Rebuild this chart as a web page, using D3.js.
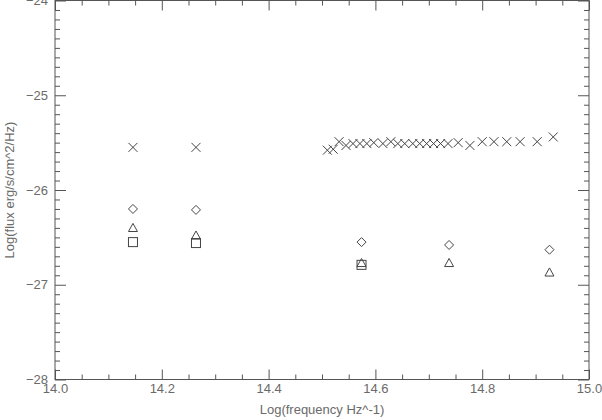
<!DOCTYPE html>
<html><head><meta charset="utf-8">
<script src="https://cdn.jsdelivr.net/npm/d3@7"></script>
<style>body{margin:0;background:#fff}svg{display:block}</style>
</head><body>
<script>
const xDomain = [14.0, 15.0];
const yDomain = [-28, -24];
const xMajorTicks = [14.0, 14.2, 14.4, 14.6, 14.8, 15.0];
const yMajorTicks = [-28, -27, -26, -25, -24];
const xLabel = "Log(frequency Hz^-1)";
const yLabel = "Log(flux erg/s/cm^2/Hz)";

const crossX = [14.146, 14.264, 14.510, 14.521, 14.532, 14.545, 14.558, 14.571, 14.584, 14.597, 14.614, 14.629, 14.642, 14.655, 14.670, 14.683, 14.696, 14.709, 14.722, 14.736, 14.755, 14.777, 14.800, 14.822, 14.846, 14.871, 14.903, 14.933];
const crossY = [-25.55, -25.55, -25.58, -25.57, -25.49, -25.53, -25.51, -25.51, -25.51, -25.50, -25.51, -25.49, -25.51, -25.51, -25.51, -25.51, -25.51, -25.51, -25.51, -25.51, -25.50, -25.53, -25.49, -25.49, -25.49, -25.49, -25.49, -25.44];
const diamondX = [14.146, 14.264, 14.574, 14.738, 14.926];
const diamondY = [-26.20, -26.21, -26.55, -26.58, -26.63];
const triangleX = [14.146, 14.264, 14.574, 14.738, 14.926];
const triangleY = [-26.40, -26.48, -26.77, -26.77, -26.87];
const squareX = [14.146, 14.264, 14.574];
const squareY = [-26.55, -26.56, -26.79];

const W = 602, H = 420;
const mLeft = 55, mRight = 589, mTop = 0.5, mBottom = 379.5;
const svg = d3.select("body").append("svg").attr("width", W).attr("height", H);
const x = d3.scaleLinear().domain(xDomain).range([mLeft, mRight]);
const y = d3.scaleLinear().domain(yDomain).range([mBottom, mTop]);

const axisColor = "#555", textColor = "#6a6a6a";
const font = "Liberation Sans, Arial, sans-serif";

const xMinor = d3.range(0, 21).map(i => 14 + i * 0.05).filter(v => !xMajorTicks.some(m => Math.abs(m - v) < 1e-6));
const yMinor = d3.range(0, 41).map(i => -28 + i * 0.1).filter(v => !yMajorTicks.some(m => Math.abs(m - v) < 1e-6));

function styleAxis(g) {
  g.select(".domain").remove();
  g.selectAll("line").attr("stroke", axisColor).attr("stroke-width", 1);
  g.selectAll("text").attr("fill", textColor).style("font-family", font).style("font-size", "13px");
}
// bottom
svg.append("g").attr("transform", `translate(0,${mBottom})`)
  .call(d3.axisBottom(x).tickValues(xMajorTicks).tickSize(-10).tickPadding(4).tickFormat(d3.format(".1f"))).call(styleAxis);
svg.append("g").attr("transform", `translate(0,${mBottom})`)
  .call(d3.axisBottom(x).tickValues(xMinor).tickSize(-5).tickFormat("")).call(styleAxis);
// top
svg.append("g").attr("transform", `translate(0,${mTop})`)
  .call(d3.axisTop(x).tickValues(xMajorTicks).tickSize(-10).tickFormat("")).call(styleAxis);
svg.append("g").attr("transform", `translate(0,${mTop})`)
  .call(d3.axisTop(x).tickValues(xMinor).tickSize(-5).tickFormat("")).call(styleAxis);
// left
svg.append("g").attr("transform", `translate(${mLeft},0)`)
  .call(d3.axisLeft(y).tickValues(yMajorTicks).tickSize(-11).tickPadding(7).tickFormat(d3.format("d"))).call(styleAxis);
svg.append("g").attr("transform", `translate(${mLeft},0)`)
  .call(d3.axisLeft(y).tickValues(yMinor).tickSize(-5).tickFormat("")).call(styleAxis);
// right
svg.append("g").attr("transform", `translate(${mRight},0)`)
  .call(d3.axisRight(y).tickValues(yMajorTicks).tickSize(-11).tickFormat("")).call(styleAxis);
svg.append("g").attr("transform", `translate(${mRight},0)`)
  .call(d3.axisRight(y).tickValues(yMinor).tickSize(-5).tickFormat("")).call(styleAxis);

// frame
svg.append("rect").attr("x", mLeft).attr("y", mTop).attr("width", mRight - mLeft).attr("height", mBottom - mTop)
  .attr("fill", "none").attr("stroke", axisColor).attr("stroke-width", 1);

// labels
svg.append("text").attr("x", (mLeft + mRight) / 2).attr("y", 414).attr("text-anchor", "middle")
  .attr("fill", textColor).style("font-family", font).style("font-size", "13px").text(xLabel);
svg.append("text").attr("transform", `translate(14,${(mTop + mBottom) / 2}) rotate(-90)`).attr("text-anchor", "middle")
  .attr("fill", textColor).style("font-family", font).style("font-size", "13px").text(yLabel);

const mk = "#444";
const pts = (xs, ys) => xs.map((v, i) => ({ x: v, y: ys[i] }));
const marks = svg.append("g").attr("fill", "none").attr("stroke", mk).attr("stroke-width", 1);

marks.selectAll("path.cross").data(pts(crossX, crossY)).join("path").attr("class", "cross")
  .attr("d", d => { const cx = x(d.x), cy = y(d.y), r = 4.5; return `M${cx - r},${cy - r}L${cx + r},${cy + r}M${cx - r},${cy + r}L${cx + r},${cy - r}`; });
marks.selectAll("path.diamond").data(pts(diamondX, diamondY)).join("path").attr("class", "diamond")
  .attr("d", d => { const cx = x(d.x), cy = y(d.y), r = 4.5; return `M${cx},${cy - r}L${cx + r},${cy}L${cx},${cy + r}L${cx - r},${cy}Z`; });
marks.selectAll("path.tri").data(pts(triangleX, triangleY)).join("path").attr("class", "tri")
  .attr("d", d => { const cx = x(d.x), cy = y(d.y), r = 4.5; return `M${cx},${cy - r}L${cx + r},${cy + r * 0.8}L${cx - r},${cy + r * 0.8}Z`; });
marks.selectAll("rect.sq").data(pts(squareX, squareY)).join("rect").attr("class", "sq")
  .attr("x", d => x(d.x) - 4.5).attr("y", d => y(d.y) - 4.5).attr("width", 9).attr("height", 9);
</script>
</body></html>
